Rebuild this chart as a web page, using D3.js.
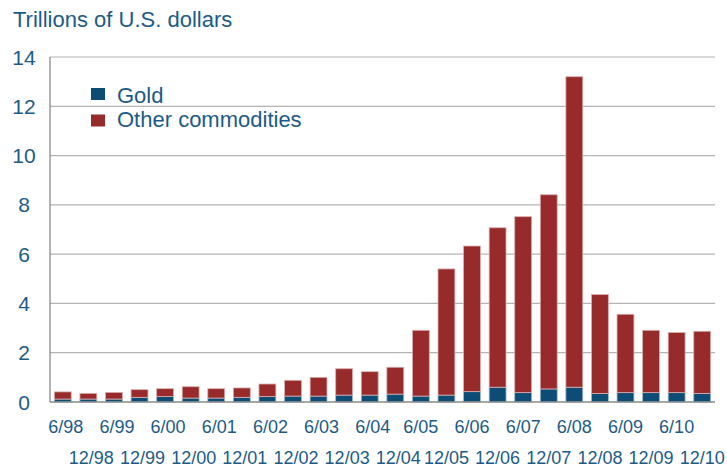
<!DOCTYPE html>
<html><head><meta charset="utf-8">
<script src="https://cdn.jsdelivr.net/npm/d3@7"></script>
<style>body{margin:0;background:#fff}svg{display:block}</style>
</head><body>
<script>
const categories = ["6/98","12/98","6/99","12/99","6/00","12/00","6/01","12/01","6/02","12/02","6/03","12/03","6/04","12/04","6/05","12/05","6/06","12/06","6/07","12/07","6/08","12/08","6/09","12/09","6/10","12/10"];
const gold   = [0.12,0.12,0.12,0.19,0.22,0.16,0.16,0.19,0.22,0.24,0.24,0.28,0.28,0.32,0.24,0.28,0.42,0.60,0.38,0.53,0.60,0.35,0.38,0.38,0.38,0.35];
const total  = [0.41,0.35,0.39,0.50,0.54,0.62,0.54,0.57,0.73,0.88,1.00,1.35,1.23,1.41,2.91,5.40,6.33,7.07,7.52,8.41,13.20,4.36,3.56,2.91,2.82,2.87];
const other  = total.map((t,i)=>+(t-gold[i]).toFixed(2));
const yTicks = [0,2,4,6,8,10,12,14];
const seriesNames = ["Gold","Other commodities"];
const colors = ["#0d4c74","#972b2b"];
const textColor = "#1d5b87";

const W=727,H=469;
const m={left:50,right:12,top:57,bottom:67};
const svg=d3.select("body").append("svg").attr("width",W).attr("height",H)
  .style("font-family","Arial, 'Liberation Sans', sans-serif");

const x=d3.scaleBand().domain(categories).range([m.left,W-m.right]).paddingInner(0.34).paddingOuter(0.17);
const y=d3.scaleLinear().domain([0,14]).range([H-m.bottom,m.top]);

// gridlines
svg.append("g").selectAll("line").data(yTicks.filter(d=>d>0)).join("line")
  .attr("x1",m.left).attr("x2",W-m.right)
  .attr("y1",d=>y(d)).attr("y2",d=>y(d))
  .attr("stroke","#b4b4b4").attr("stroke-width",1.2);

// y tick labels
svg.append("g").selectAll("text").data(yTicks).join("text")
  .attr("x",24).attr("y",d=>y(d)).attr("dy","0.36em")
  .attr("text-anchor","middle").attr("font-size",21).attr("fill",textColor)
  .text(d=>d);

// stacked data
const rows=categories.map((c,i)=>({cat:c,Gold:gold[i],"Other commodities":other[i]}));
const stack=d3.stack().keys(seriesNames)(rows);
svg.append("g").selectAll("g").data(stack).join("g")
  .attr("fill",(d,i)=>colors[i])
  .attr("stroke",(d,i)=>i===0?"#9fb9cc":"#dcaeae").attr("stroke-width",0.8)
  .selectAll("rect").data(d=>d).join("rect")
  .attr("x",d=>x(d.data.cat)).attr("width",x.bandwidth())
  .attr("y",d=>y(d[1])).attr("height",d=>y(d[0])-y(d[1]));

// axes lines
svg.append("line").attr("x1",m.left).attr("x2",m.left).attr("y1",m.top).attr("y2",y(0))
  .attr("stroke","#8a8a8a").attr("stroke-width",1.3);
svg.append("line").attr("x1",m.left).attr("x2",W-m.right).attr("y1",y(0)).attr("y2",y(0))
  .attr("stroke","#8a8a8a").attr("stroke-width",1.3);

// x labels staggered
svg.append("g").selectAll("text").data(categories).join("text")
  .attr("x",(d,i)=>x(d)+x.bandwidth()/2+(i<14?3:0))
  .attr("y",(d,i)=>i%2===0?433:464)
  .attr("text-anchor","middle").attr("font-size",18).attr("fill",textColor)
  .text(d=>d);

// title
svg.append("text").attr("x",13).attr("y",27).attr("font-size",22).attr("fill",textColor)
  .text("Trillions of U.S. dollars");

// legend
const lg=svg.append("g");
seriesNames.forEach((n,i)=>{
  lg.append("rect").attr("x",91).attr("y",88+i*26.5).attr("width",14).attr("height",12).attr("fill",colors[i]);
  lg.append("text").attr("x",117).attr("y",102.7+i*24).attr("font-size",22).attr("fill",textColor).text(n);
});
</script>
</body></html>
